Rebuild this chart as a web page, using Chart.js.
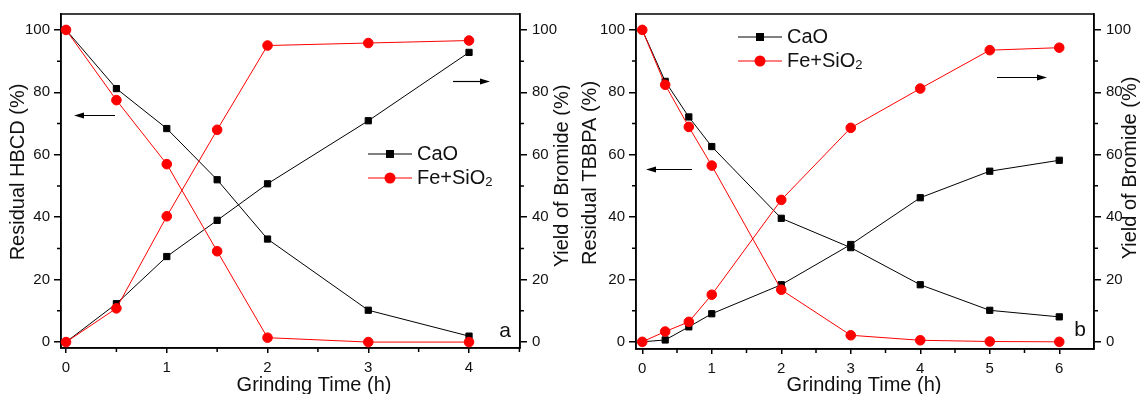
<!DOCTYPE html>
<html>
<head>
<meta charset="utf-8">
<title>Grinding time vs residual / bromide yield</title>
<script src="https://cdn.jsdelivr.net/npm/chart.js@4.4.0/dist/chart.umd.min.js"></script>
<style>
  html, body { margin: 0; padding: 0; background: #fff; }
  #wrap { position: relative; width: 1141px; height: 394px; overflow: hidden; }
  canvas { position: absolute; top: 0; }
</style>
</head>
<body>
<div id="wrap">
  <canvas id="chartA" width="570" height="394" style="left:0px"></canvas>
  <canvas id="chartB" width="571" height="394" style="left:570px"></canvas>
</div>
<script>
// ---- data ----
// panel a : HBCD
const timeA = [0, 0.5, 1, 1.5, 2, 3, 4];
const caoResidualA = [100, 81.2, 68.4, 52, 33, 10.2, 1.9];
const feResidualA = [100, 77.5, 57, 29.1, 1.4, 0, 0];
const caoYieldA = [0, 12.3, 27.4, 39, 50.7, 70.9, 92.8];
const feYieldA = [0, 10.8, 40.3, 68, 95, 95.8, 96.6];

// panel b : TBBPA
const timeB = [0, 0.33, 0.67, 1, 2, 3, 4, 5, 6];
const caoResidualB = [100, 83.5, 72.1, 62.6, 39.6, 30.2, 18.3, 10.1, 8];
const feResidualB = [100, 82.4, 68.9, 56.5, 16.7, 2.1, 0.5, 0.1, 0];
const caoYieldB = [0, 0.6, 4.8, 9, 18.3, 31.2, 46.2, 54.7, 58.2];
const feYieldB = [0, 3.3, 6.4, 15.1, 45.5, 68.6, 81.2, 93.5, 94.3];

// tick labels
const xTicksA = [0, 1, 2, 3, 4];
const xTicksB = [0, 1, 2, 3, 4, 5, 6];
const yTicks = [0, 20, 40, 60, 80, 100];

const seriesNames = ["CaO", "Fe+SiO", "2"];

const BLACK = "#000000";
const RED = "#ff0000";
const FONT = "'Liberation Sans', Arial, Helvetica, sans-serif";

function pts(xs, ys) {
  return xs.map((x, i) => ({ x: x, y: ys[i] }));
}

function series(label, xs, ys, axis, color, shape) {
  return {
    label: label,
    data: pts(xs, ys),
    yAxisID: axis,
    showLine: true,
    borderColor: color,
    backgroundColor: color,
    borderWidth: 1,
    pointStyle: shape,
    pointRadius: shape === "rect" ? 4.4 : 4.8,
    pointHoverRadius: shape === "rect" ? 4.4 : 4.8,
    pointBorderWidth: 1,
    pointBorderColor: color,
    pointBackgroundColor: color,
    clip: false,
    order: color === RED ? 0 : 1
  };
}

function yScale(position, width, min, max, padding) {
  return {
    type: "linear",
    position: position,
    min: min,
    max: max,
    afterBuildTicks: s => { s.ticks = yTicks.map(v => ({ value: v })); },
    afterFit: s => { s.width = width; },
    ticks: { font: { family: FONT, size: 15 }, color: "#111", padding: padding },
    grid: { drawOnChartArea: false, tickLength: 7, color: BLACK, lineWidth: 1.5 },
    border: { color: BLACK, width: 1.5 }
  };
}

function xScale(ticks, min, max, height) {
  return {
    type: "linear",
    position: "bottom",
    min: min,
    max: max,
    afterBuildTicks: s => { s.ticks = ticks.map(v => ({ value: v })); },
    afterFit: s => { s.height = height; },
    ticks: { font: { family: FONT, size: 15 }, color: "#111", padding: 6, maxRotation: 0 },
    grid: { drawOnChartArea: false, tickLength: 5, color: BLACK, lineWidth: 1.5 },
    border: { color: BLACK, width: 1.5 }
  };
}

function arrow(ctx, x1, x2, y) {
  const dir = x2 > x1 ? 1 : -1;
  ctx.beginPath();
  ctx.moveTo(x1, y);
  ctx.lineTo(x2 - dir * 8, y);
  ctx.lineWidth = 1.2;
  ctx.strokeStyle = BLACK;
  ctx.stroke();
  ctx.beginPath();
  ctx.moveTo(x2, y);
  ctx.lineTo(x2 - dir * 10, y - 3);
  ctx.lineTo(x2 - dir * 10, y + 3);
  ctx.closePath();
  ctx.fillStyle = BLACK;
  ctx.fill();
}

function legendRow(ctx, x, y, color, shape) {
  ctx.beginPath();
  ctx.moveTo(x, y);
  ctx.lineTo(x + 44, y);
  ctx.strokeStyle = color;
  ctx.lineWidth = 1;
  ctx.stroke();
  ctx.fillStyle = color;
  ctx.beginPath();
  if (shape === "rect") ctx.rect(x + 22 - 4, y - 4, 8, 8);
  else ctx.arc(x + 22, y, 5.5, 0, Math.PI * 2);
  ctx.fill();
}

// frame, minor ticks, titles, legend, arrows, panel letter
const decor = {
  id: "decor",
  beforeDatasetsDraw(chart) {
    const { ctx, chartArea: a, scales } = chart;
    ctx.save();
    ctx.strokeStyle = BLACK;
    ctx.lineWidth = 1.5;
    ctx.strokeRect(a.left, a.top, a.right - a.left, a.bottom - a.top);
    // minor ticks
    const xs = scales.x;
    for (let v = 0.5; v < xs.max; v += 1) {
      const px = xs.getPixelForValue(v);
      ctx.beginPath();
      ctx.moveTo(px, a.bottom);
      ctx.lineTo(px, a.bottom + 4);
      ctx.stroke();
    }
    for (let v = 10; v < 100; v += 20) {
      const py = scales.y.getPixelForValue(v);
      ctx.beginPath();
      ctx.moveTo(a.left - 4, py);
      ctx.lineTo(a.left, py);
      ctx.moveTo(a.right, py);
      ctx.lineTo(a.right + 4, py);
      ctx.stroke();
    }
    ctx.restore();
  },
  afterDraw(chart, args, o) {
    const ctx = chart.ctx;
    ctx.save();
    ctx.fillStyle = "#111";
    ctx.textBaseline = "middle";
    ctx.textAlign = "center";
    ctx.font = "20px " + FONT;
    // axis titles
    ctx.fillText(o.xTitle, o.xTitlePos[0], o.xTitlePos[1]);
    [[o.yTitle, o.yTitlePos], [o.y2Title, o.y2TitlePos]].forEach(([t, p]) => {
      ctx.save();
      ctx.translate(p[0], p[1]);
      ctx.rotate(-Math.PI / 2);
      ctx.fillText(t, 0, 0);
      ctx.restore();
    });
    // legend
    const L = o.legend;
    legendRow(ctx, L[0], L[1], BLACK, "rect");
    legendRow(ctx, L[0], L[1] + 24, RED, "circle");
    ctx.fillStyle = "#111";
    ctx.textAlign = "left";
    ctx.font = "20px " + FONT;
    ctx.fillText(seriesNames[0], L[0] + 49, L[1]);
    ctx.fillText(seriesNames[1], L[0] + 49, L[1] + 24);
    const w = ctx.measureText(seriesNames[1]).width;
    ctx.font = "13px " + FONT;
    ctx.fillText(seriesNames[2], L[0] + 49 + w, L[1] + 28);
    // arrows
    o.arrows.forEach(r => arrow(ctx, r[0], r[1], r[2]));
    // panel letter
    ctx.fillStyle = "#111";
    ctx.textAlign = "center";
    ctx.font = "21px " + FONT;
    ctx.fillText(o.letter, o.letterPos[0], o.letterPos[1]);
    ctx.restore();
  }
};

function makePanel(id, p) {
  return new Chart(document.getElementById(id), {
    type: "scatter",
    data: {
      datasets: [
        series("CaO", p.time, p.caoRes, "y", BLACK, "rect"),
        series("Fe+SiO2", p.time, p.feRes, "y", RED, "circle"),
        series("CaO", p.time, p.caoYield, "y2", BLACK, "rect"),
        series("Fe+SiO2", p.time, p.feYield, "y2", RED, "circle")
      ]
    },
    options: {
      responsive: false,
      animation: false,
      devicePixelRatio: 1,
      layout: { padding: { top: 11, left: 0, right: 0, bottom: 0 } },
      scales: {
        x: xScale(p.xTicks, p.xMin, p.xMax, p.xHeight),
        y: yScale("left", p.yWidth, p.yMin, p.yMax, 4),
        y2: yScale("right", p.y2Width, p.yMin, p.yMax, 5)
      },
      plugins: {
        legend: { display: false },
        tooltip: { enabled: false },
        decor: p.decor
      }
    },
    plugins: [decor]
  });
}

makePanel("chartA", {
  time: timeA, caoRes: caoResidualA, feRes: feResidualA, caoYield: caoYieldA, feYield: feYieldA,
  xTicks: xTicksA, xMin: -0.05, xMax: 4.506, xHeight: 46,
  yMin: -1.9, yMax: 105.1, yWidth: 61, y2Width: 50,
  decor: {
    xTitle: "Grinding Time (h)", xTitlePos: [314, 385],
    yTitle: "Residual HBCD (%)", yTitlePos: [18, 172],
    y2Title: "Yield of Bromide (%)", y2TitlePos: [562, 176],
    legend: [368, 154],
    arrows: [[115, 74, 115.5], [453, 490, 81.5]],
    letter: "a", letterPos: [505, 331]
  }
});

makePanel("chartB", {
  time: timeB, caoRes: caoResidualB, feRes: feResidualB, caoYield: caoYieldB, feYield: feYieldB,
  xTicks: xTicksB, xMin: -0.09, xMax: 6.5, xHeight: 45,
  yMin: -2.3, yMax: 105.1, yWidth: 66, y2Width: 47,
  decor: {
    xTitle: "Grinding Time (h)", xTitlePos: [294, 385],
    yTitle: "Residual TBBPA (%)", yTitlePos: [20, 173],
    y2Title: "Yield of Bromide (%)", y2TitlePos: [560, 168],
    legend: [168, 37],
    arrows: [[122, 76, 169.5], [427, 477, 77.5]],
    letter: "b", letterPos: [510, 330]
  }
});
</script>
</body>
</html>
